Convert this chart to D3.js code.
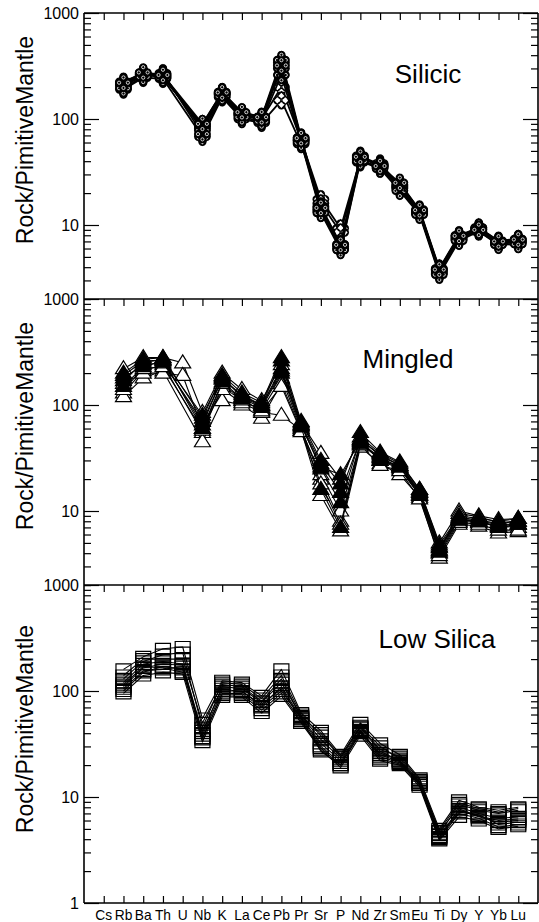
<!DOCTYPE html>
<html>
<head>
<meta charset="utf-8">
<script src="https://cdn.jsdelivr.net/npm/d3@7"></script>
<style>
  html, body { margin: 0; padding: 0; background: #fff; }
  svg { display: block; }
</style>
</head>
<body>
<svg id="chart" width="539" height="922"></svg>
<script>
// x axis: elements in spider-diagram order
const elements = ['Cs','Rb','Ba','Th','U','Nb','K','La','Ce','Pb','Pr','Sr','P','Nd','Zr','Sm','Eu','Ti','Dy','Y','Yb','Lu'];

const yMajorTicks = [1, 10, 100, 1000];
const yMajorLabels = ['1', '10', '100', '1000'];
const panelNames = ['Silicic', 'Mingled', 'Low Silica'];
const yTitle = 'Rock/PimitiveMantle';

// Silicic samples (no Cs, no U)
//                Cs    Rb   Ba   Th   U     Nb  K    La   Ce   Pb   Pr  Sr    P    Nd  Zr  Sm   Eu    Ti   Dy   Y    Yb   Lu
const silicicSolid = [
  [null, 215, 265, 255, null, 82, 175, 110, 102, 340, 64, 14,   6.3, 43, 36, 23,  13.5, 3.7, 7.6, 9.1, 6.8, 7.2],
  [null, 205, 255, 265, null, 78, 170, 108,  98, 300, 62, 13.5, 6.0, 41, 35, 22,  13,   3.5, 7.3, 8.8, 6.6, 6.9],
  [null, 225, 270, 245, null, 88, 180, 114, 105, 360, 67, 15,   6.6, 45, 37, 24,  14,   3.9, 8.0, 9.4, 7.1, 7.4],
  [null, 195, 250, 270, null, 72, 165, 104,  95, 260, 60, 13,   5.8, 40, 34, 21,  12.5, 3.4, 7.1, 8.7, 6.5, 6.6],
  [null, 220, 275, 260, null, 90, 178, 116, 104, 320, 66, 14.5, 6.5, 44, 36, 25,  13.8, 3.8, 7.9, 9.0, 7.0, 7.3]
];
const silicicOpen = [
  [null, 210, 260, 250, null, 85, 172, 112, 100, 200, 63, 17.5, 9.3, 42, 38, 23.5, 13.5, 3.8, 7.8, 9.5, 7.0, 7.0],
  [null, 190, 245, 240, null, 68, 160, 100,  92, 150, 58, 16,   8.5, 39, 36, 22.5, 12.8, 3.6, 7.4, 9.2, 6.9, 6.8]
];

// Mingled samples
const mingledSolid = [
  [null, 150, 230, 260, null, 65, 180, 120, 100, 220, 65, 25, 12,  48, 33, 27, 15,   4.3, 8.5, 8.0, 7.0, 7.5],
  [null, 200, 270, 280, null, 75, 190, 130, 105, 280, 70, 30, 18,  55, 36, 29, 16,   4.8, 9.0, 8.5, 8.0, 8.5],
  [null, 170, 250, 270, null, 60, 165, 115,  95, 200, 62, 16,  7,  43, 31, 26, 14.5, 4.5, 8.2, 8.0, 7.5, 7.5],
  [null, 180, 240, 250, null, 70, 175, 125, 100, 260, 66, 28, 15,  47, 34, 27, 15.5, 4.6, 8.7, 8.2, 7.6, 8.0],
  [null, 190, 260, 265, null, 80, 185, 118,  98, 210, 64, 26, 22,  46, 30, 26, 14,   4.1, 8.3, 7.9, 7.2, 7.6]
];
const mingledOpen = [
  [null, 130, 210, 240, null, 55, 150, 110,  90, 180, 60, 20,  8,  45, 30, 25, 14,   4.0, 8.0, 7.8, 7.2, 7.0],
  [null, 120, 180, 210, null, 45, 110, 100,  75, 160, 58, 14,  6.5, 40, 28, 22, 13.5, 3.6, 7.5, 7.2, 6.2, 6.4],
  [null, 220, 280, 280, 250,  85, 200, 140, 110, 240, 68, 35, 20,  50, 35, 28, 16,   5.0, 10,  9.0, 8.3, 8.5],
  [null, 160, 200, 200, 190,  60, 140, 105,  85,  80, 58, 22, 10,  44, 32, 26, 15,   4.2, 9.5, 8.8, 7.8, 8.0],
  [null, 140, 220, 230, null, 58, 160, 112,  88, 150, 56, 18,  7.5, 42, 27, 24, 13,   3.8, 7.8, 7.5, 6.6, 6.6]
];

// Low Silica samples
const lowSilica = [
  [null, 100, 150, 170, 160, 35, 95,  95, 70, 100, 55, 30, 21, 42, 24, 21,   13.5, 4.4, 7.5, 6.5, 5.8, 6.0],
  [null, 120, 180, 190, 180, 40, 110, 105, 78, 120, 58, 35, 23, 45, 27, 22,   14,   4.7, 8.0, 7.0, 6.3, 6.5],
  [null, 160, 210, 250, 260, 55, 125, 120, 90, 160, 62, 42, 25, 50, 32, 25,   15,   5.0, 9.3, 8.0, 7.5, 8.0],
  [null,  95, 140, 150, 145, 33, 88,  88, 62,  90, 50, 28, 19, 38, 22, 20,   12.5, 3.9, 6.5, 6.0, 5.0, 5.3],
  [null, 110, 165, 180, 175, 38, 100, 100, 72, 110, 56, 32, 22, 43, 25, 21.5, 13.5, 4.2, 7.2, 6.8, 5.5, 5.8],
  [null, 130, 190, 220, 230, 45, 120, 115, 85, 140, 60, 38, 24, 47, 30, 23,   14,   4.5, 8.5, 7.5, 7.0, 7.5],
  [null, 105, 155, 160, 170, 36, 92,  92, 66,  95, 52, 29, 20, 40, 23, 20.5, 13,   4.0, 7.0, 6.3, 5.2, 5.5],
  [null, 140, 200, 200, 200, 50, 115, 110, 80, 130, 57, 40, 24, 46, 28, 24,   14.5, 4.8, 8.8, 7.8, 7.2, 7.8],
  [null, 115, 170, 165, 150, 42, 105, 98,  75, 105, 54, 27, 20, 41, 26, 22,   13,   4.1, 7.7, 6.6, 6.0, 6.2]
];

// ── layout ──────────────────────────────────────────
const FONT = 'Liberation Sans, Arial, Helvetica, sans-serif';
const xL = 84, xR = 538;
const tops = [13, 299, 585];
const bottoms = [299, 585, 903];
const DEC = 106;

const svg = d3.select('#chart');
const x = d3.scaleLinear().domain([-1, elements.length]).range([xL, xR]);

// symbol paths
const LOBES = [[0, -5], [4.2, 0], [0, 5], [-4.2, 0]];
function flowerPath() {
  const p = d3.path();
  const r = 3.6;
  p.moveTo(0, -8.6); p.lineTo(7.8, 0); p.lineTo(0, 8.6); p.lineTo(-7.8, 0); p.closePath();
  LOBES.forEach(([cx, cy]) => {
    p.moveTo(cx + r, cy);
    p.arc(cx, cy, r, 0, 2 * Math.PI);
  });
  return p.toString();
}
function lobeInner() {
  const p = d3.path();
  const r = 1.6;
  LOBES.forEach(([cx, cy]) => {
    p.moveTo(cx * 1.05 + r, cy * 1.05);
    p.arc(cx * 1.05, cy * 1.05, r, 0, 2 * Math.PI);
  });
  return p.toString();
}
const FLOWER = flowerPath();
const FLOWER_INNER = lobeInner();
const TRIANGLE = 'M0,-8L8,5L-8,5Z';
const SQUARE = 'M-7.5,-5.5H7.5V5.5H-7.5Z';

// open groups first so the solid ones sit on top
const panels = [
  { groups: [{ rows: silicicOpen, sym: FLOWER, fill: '#fff' }, { rows: silicicSolid, sym: FLOWER, fill: '#000', inner: FLOWER_INNER }], lw: 1.8 },
  { groups: [{ rows: mingledOpen, sym: TRIANGLE, fill: '#fff' }, { rows: mingledSolid, sym: TRIANGLE, fill: '#000' }], lw: 1.1 },
  { groups: [{ rows: lowSilica, sym: SQUARE, fill: 'none' }], lw: 1.1 }
];

panels.forEach((pnl, i) => {
  const top = tops[i], bot = bottoms[i];
  const y = d3.scaleLog().domain([1, 1000]).range([top + 3 * DEC, top]);
  const g = svg.append('g');

  const allTicks = y.ticks().filter(v => y(v) <= bot + 0.5);
  const major = allTicks.filter(v => yMajorTicks.includes(v));
  const minor = allTicks.filter(v => !yMajorTicks.includes(v));

  // y ticks, inward on both sides
  const addAxis = (axisFn, xPos, vals, size) => {
    const a = g.append('g').attr('transform', `translate(${xPos},0)`)
      .call(axisFn(y).tickValues(vals).tickSize(size).tickFormat(''));
    a.select('.domain').remove();
    a.selectAll('line').attr('stroke', '#000').attr('stroke-width', 1.2);
  };
  addAxis(d3.axisRight, xL, minor, 7);
  addAxis(d3.axisRight, xL, major, 15);
  addAxis(d3.axisLeft, xR, minor, 7);
  addAxis(d3.axisLeft, xR, major, 15);

  // top ticks (pointing down)
  const ta = g.append('g').attr('transform', `translate(0,${top})`)
    .call(d3.axisBottom(x).tickValues(d3.range(elements.length)).tickSize(7).tickFormat(''));
  ta.select('.domain').remove();
  ta.selectAll('line').attr('stroke', '#000').attr('stroke-width', 1.2);

  // y tick labels
  major.forEach(v => {
    g.append('text')
      .attr('x', 79).attr('y', y(v)).attr('dy', '0.36em')
      .attr('text-anchor', 'end')
      .attr('font-family', FONT).attr('font-size', 16)
      .text(yMajorLabels[yMajorTicks.indexOf(v)]);
  });

  // y title
  const ty = top + (i === 2 ? 144 : 127);
  g.append('text')
    .attr('transform', `translate(33,${ty}) rotate(-90)`)
    .attr('text-anchor', 'middle')
    .attr('font-family', FONT).attr('font-size', 23)
    .text(yTitle);

  // panel name
  const nameX = [428, 408, 437][i];
  const nameY = [83, 368, 648][i];
  g.append('text')
    .attr('x', nameX).attr('y', nameY)
    .attr('text-anchor', 'middle')
    .attr('font-family', FONT).attr('font-size', 26)
    .text(panelNames[i]);

  // series
  const line = d3.line().x(d => x(d.i)).y(d => y(d.v));
  pnl.groups.forEach(grp => {
    grp.rows.forEach(row => {
      const pts = row.map((v, idx) => ({ i: idx, v })).filter(d => d.v != null);
      g.append('path')
        .attr('d', line(pts))
        .attr('fill', 'none')
        .attr('stroke', '#000')
        .attr('stroke-width', pnl.lw)
        .attr('stroke-linejoin', 'round');
      const m = g.append('g').selectAll('g').data(pts).join('g')
        .attr('transform', d => `translate(${x(d.i)},${y(d.v)})`);
      m.append('path')
        .attr('d', grp.sym)
        .attr('fill', grp.fill)
        .attr('stroke', '#000')
        .attr('stroke-width', 1.2);
      if (grp.inner) {
        m.append('path')
          .attr('d', grp.inner)
          .attr('fill', 'none')
          .attr('stroke', '#fff')
          .attr('stroke-width', 0.8);
      }
    });
  });
});

// frame
const frame = svg.append('g').attr('stroke', '#000').attr('stroke-width', 1.6).attr('fill', 'none');
frame.append('line').attr('x1', xL).attr('x2', xL).attr('y1', tops[0]).attr('y2', bottoms[2]);
frame.append('line').attr('x1', xR).attr('x2', xR).attr('y1', tops[0]).attr('y2', bottoms[2]);
tops.concat([bottoms[2]]).forEach(yy => {
  frame.append('line').attr('x1', xL).attr('x2', xR).attr('y1', yy).attr('y2', yy);
});

// bottom x axis
const ba = svg.append('g').attr('transform', `translate(0,${bottoms[2]})`)
  .call(d3.axisTop(x).tickValues(d3.range(elements.length)).tickSize(7).tickFormat(''));
ba.select('.domain').remove();
ba.selectAll('line').attr('stroke', '#000').attr('stroke-width', 1.2);

svg.append('g').selectAll('text').data(elements).join('text')
  .attr('transform', (d, i) => `translate(${x(i)},920) scale(0.92,1)`)
  .attr('text-anchor', 'middle')
  .attr('font-family', FONT).attr('font-size', 15)
  .text(d => d);
</script>
</body>
</html>
